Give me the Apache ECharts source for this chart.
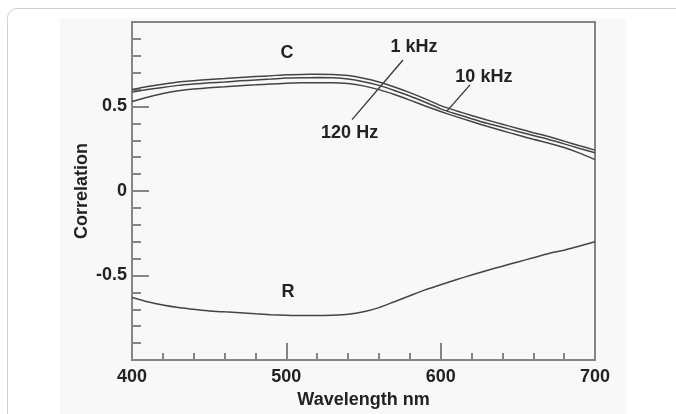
<!DOCTYPE html>
<html>
<head>
<meta charset="utf-8">
<script src="https://cdn.jsdelivr.net/npm/echarts@6/dist/echarts.min.js"></script>
<style>
    body { margin: 0; background: #ffffff; overflow: hidden; }
    .card { position: absolute; left: 7px; top: 8px; width: 720px; height: 460px; border: 1px solid #d2d2d2; border-radius: 10px; }
    .panel { position: absolute; left: 60px; top: 18px; width: 566px; height: 400px; background: #f8f8f8; }
    #main { position: absolute; left: 0; top: 0; width: 676px; height: 414px; }
</style>
</head>
<body>
<div class="card"></div>
<div class="panel"></div>
<div id="main"></div>
<script>
// 数据
var wavelengths = [400, 410, 420, 430, 440, 450, 460, 470, 480, 490, 500, 510, 520, 530, 540, 550,
    560, 570, 580, 590, 600, 610, 620, 630, 640, 650, 660, 670, 680, 690, 700]

var c10k = [0.600, 0.618, 0.632, 0.645, 0.653, 0.660, 0.665, 0.672, 0.677, 0.682, 0.688, 0.690, 0.691, 0.690, 0.683, 0.667,
    0.645, 0.615, 0.582, 0.545, 0.505, 0.475, 0.447, 0.420, 0.395, 0.370, 0.345, 0.322, 0.295, 0.268, 0.242]

var c1k = [0.585, 0.600, 0.613, 0.625, 0.633, 0.640, 0.645, 0.652, 0.657, 0.662, 0.668, 0.670, 0.671, 0.670, 0.663, 0.647,
    0.625, 0.595, 0.562, 0.525, 0.486, 0.456, 0.428, 0.401, 0.377, 0.352, 0.328, 0.305, 0.279, 0.252, 0.226]

var c120 = [0.530, 0.555, 0.577, 0.593, 0.603, 0.611, 0.617, 0.623, 0.628, 0.633, 0.637, 0.640, 0.641, 0.641, 0.636, 0.622,
    0.600, 0.571, 0.538, 0.503, 0.470, 0.440, 0.411, 0.383, 0.357, 0.331, 0.306, 0.283, 0.257, 0.224, 0.186]

var rCurve = [-0.630, -0.655, -0.675, -0.690, -0.700, -0.710, -0.715, -0.720, -0.727, -0.732, -0.735, -0.737, -0.737, -0.735, -0.730, -0.715,
    -0.690, -0.655, -0.620, -0.585, -0.555, -0.525, -0.497, -0.470, -0.445, -0.420, -0.395, -0.370, -0.350, -0.325, -0.300]

// 标注 (数据坐标)
var noteTexts = ['C', '1 kHz', '10 kHz', '120 Hz', 'R']
var notePos = [[500.5, 0.816], [582.7, 0.854], [628, 0.672], [541, 0.345], [501, -0.596]]
var leaders = [
    [[575.6, 0.775], [542.6, 0.422]],
    [[619, 0.628], [603.9, 0.471]],
]

var element = document.querySelector('#main')
var myChart = echarts.init(element)

var font = "'Liberation Sans', Arial, sans-serif"
var frameColor = '#858585'

var pairs = (ys) => {
    let result = []
    for (var i = 0; i < wavelengths.length; i++) {
        result.push([wavelengths[i], ys[i]])
    }
    return result
}

var lineSeries = (name, ys) => {
    return {
        name: name,
        type: 'line',
        data: pairs(ys),
        showSymbol: false,
        smooth: 0.2,
        lineStyle: { color: '#444444', width: 1.5 },
        silent: true,
    }
}

myChart.setOption({
    animation: false,
    grid: {
        left: 132,
        right: 81,
        top: 22,
        bottom: 54,
        show: true,
        borderColor: frameColor,
        borderWidth: 2,
        backgroundColor: 'transparent',
    },
    xAxis: {
        type: 'value',
        min: 400,
        max: 700,
        interval: 100,
        name: 'Wavelength nm',
        nameLocation: 'middle',
        nameGap: 30,
        nameTextStyle: { fontFamily: font, fontSize: 18, fontWeight: 'bold', color: '#222' },
        axisLine: { onZero: false, lineStyle: { color: frameColor, width: 2 } },
        axisTick: { inside: true, length: 17, lineStyle: { color: frameColor, width: 2 } },
        minorTick: { show: true, splitNumber: 5, length: 7, lineStyle: { color: frameColor, width: 2 } },
        axisLabel: { fontFamily: font, fontSize: 18, fontWeight: 'bold', color: '#222', margin: 8 },
        splitLine: { show: false },
    },
    yAxis: {
        type: 'value',
        min: -1,
        max: 1,
        interval: 0.5,
        name: 'Correlation',
        nameLocation: 'middle',
        nameGap: 41,
        nameMoveOverlap: false,
        nameTextStyle: { fontFamily: font, fontSize: 18, fontWeight: 'bold', color: '#222' },
        axisLine: { onZero: false, lineStyle: { color: frameColor, width: 2 } },
        axisTick: { inside: true, length: 17, lineStyle: { color: frameColor, width: 2 } },
        minorTick: { show: true, splitNumber: 5, length: 9, lineStyle: { color: frameColor, width: 2 } },
        axisLabel: {
            fontFamily: font, fontSize: 18, fontWeight: 'bold', color: '#222', margin: 5,
            formatter: (v) => (v === 1 || v === -1) ? '' : String(v),
        },
        splitLine: { show: false },
    },
    series: [
        lineSeries('10 kHz', c10k),
        lineSeries('1 kHz', c1k),
        lineSeries('120 Hz', c120),
        lineSeries('R', rCurve),
    ],
})

// 标注文字和引线
var addNotes = () => {
    let elements = []
    for (var i = 0; i < noteTexts.length; i++) {
        let p = myChart.convertToPixel({ gridIndex: 0 }, notePos[i])
        elements.push({
            type: 'text',
            x: p[0],
            y: p[1],
            silent: true,
            style: {
                text: noteTexts[i],
                fill: '#222',
                font: 'bold 18px ' + font,
                align: 'center',
                verticalAlign: 'middle',
            },
        })
    }
    for (var j = 0; j < leaders.length; j++) {
        let a = myChart.convertToPixel({ gridIndex: 0 }, leaders[j][0])
        let b = myChart.convertToPixel({ gridIndex: 0 }, leaders[j][1])
        elements.push({
            type: 'line',
            silent: true,
            shape: { x1: a[0], y1: a[1], x2: b[0], y2: b[1] },
            style: { stroke: '#333', lineWidth: 1.3 },
        })
    }
    myChart.setOption({ graphic: elements })
}

var __main = () => {
    addNotes()
}

__main()
</script>
</body>
</html>
